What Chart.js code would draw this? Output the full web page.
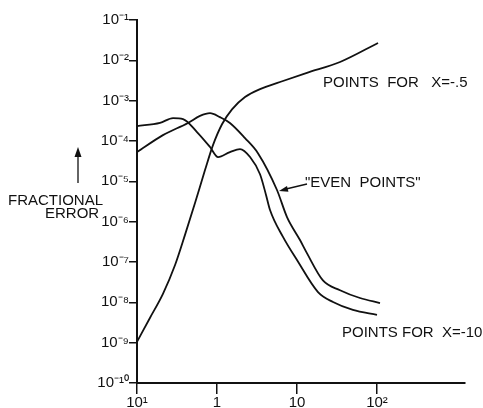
<!DOCTYPE html>
<html>
<head>
<meta charset="utf-8">
<script src="https://cdn.jsdelivr.net/npm/chart.js@4.4.1/dist/chart.umd.min.js"></script>
<style>
  html, body { margin: 0; padding: 0; background: #fff; }
  canvas { display: block; }
</style>
</head>
<body>
<canvas id="errChart" width="483" height="408"></canvas>
<script>
// axis ticks
const xTickValues = [0.1, 1, 10, 100];
const xTickLabels = ['10¹', '1', '10', '10²'];
const yTickValues = [1e-10, 1e-9, 1e-8, 1e-7, 1e-6, 1e-5, 1e-4, 1e-3, 1e-2, 1e-1];
const yTickLabels = ['10⁻¹⁰', '10⁻⁹', '10⁻⁸', '10⁻⁷', '10⁻⁶', '10⁻⁵', '10⁻⁴', '10⁻³', '10⁻²', '10⁻¹'];

// points for x = -.5 (rising curve)
const halfX = [0.1, 0.145, 0.211, 0.299, 0.398, 0.531, 0.708, 0.891, 1.155, 1.54, 2.24, 3.45, 6.13, 13.3, 34.5, 103];
const halfY = [1.05e-9, 4.1e-9, 1.62e-8, 8.4e-8, 4.7e-7, 2.9e-6, 1.9e-5, 7.9e-5, 2.6e-4, 6.1e-4, 1.23e-3, 1.94e-3, 2.9e-3, 4.9e-3, 9.1e-3, 2.7e-2];

// points for x = -10 (curve with the dip)
const tenX = [0.1, 0.194, 0.282, 0.376, 0.562, 0.818, 1.03, 1.45, 1.94, 2.59, 3.45, 4.1, 4.6, 6.68, 10, 18.3, 28.2, 50, 100];
const tenY = [2.35e-4, 2.8e-4, 3.7e-4, 3.5e-4, 1.67e-4, 7.1e-5, 4.0e-5, 5.3e-5, 6.3e-5, 4.0e-5, 1.5e-5, 4.6e-6, 1.95e-6, 4.2e-7, 1.12e-7, 1.8e-8, 1.02e-8, 6.5e-9, 4.9e-9];

// "even points"
const evenX = [0.1, 0.211, 0.434, 0.613, 0.818, 1.09, 1.45, 2.24, 3.25, 5.62, 7.5, 10.9, 13.3, 21.1, 34.5, 61.3, 109];
const evenY = [5.3e-5, 1.4e-4, 2.8e-4, 4.2e-4, 4.9e-4, 3.9e-4, 2.8e-4, 1.18e-4, 5.0e-5, 6.1e-6, 1.3e-6, 3.5e-7, 1.66e-7, 3.5e-8, 2.0e-8, 1.28e-8, 9.6e-9];

const toPoints = (xs, ys) => xs.map((x, i) => ({ x: x, y: ys[i] }));

const lineStyle = {
  showLine: true,
  borderColor: '#111',
  borderWidth: 1.8,
  pointRadius: 0,
  cubicInterpolationMode: 'monotone',
  fill: false
};

function arrowHead(ctx, x, y, angle, len, half) {
  ctx.save();
  ctx.translate(x, y);
  ctx.rotate(angle);
  ctx.beginPath();
  ctx.moveTo(0, 0);
  ctx.lineTo(-len, -half);
  ctx.lineTo(-len, half);
  ctx.closePath();
  ctx.fill();
  ctx.restore();
}

// labels and arrows written on the plot
const notes = {
  id: 'notes',
  afterDraw(chart) {
    const ctx = chart.ctx;
    ctx.save();
    ctx.fillStyle = '#111';
    ctx.strokeStyle = '#111';
    ctx.font = '15px "Liberation Sans", Arial, sans-serif';
    ctx.textBaseline = 'alphabetic';
    ctx.fillText('POINTS  FOR   X=-.5', 323, 87);
    ctx.fillText('POINTS FOR  X=-10', 342, 337);
    ctx.fillText('"EVEN  POINTS"', 305, 187);

    // arrow to the even points curve
    ctx.lineWidth = 1.3;
    ctx.beginPath();
    ctx.moveTo(307, 184);
    ctx.lineTo(286, 189);
    ctx.stroke();
    arrowHead(ctx, 279, 191, Math.atan2(191 - 184, 279 - 307), 9, 3);

    // y axis title
    ctx.fillText('FRACTIONAL', 8, 205);
    ctx.fillText('ERROR', 45, 218);
    ctx.beginPath();
    ctx.moveTo(78, 183);
    ctx.lineTo(78, 155);
    ctx.stroke();
    arrowHead(ctx, 78, 147, -Math.PI / 2, 10, 3.5);
    ctx.restore();
  }
};

new Chart(document.getElementById('errChart'), {
  type: 'scatter',
  data: {
    datasets: [
      Object.assign({ label: 'X=-.5', data: toPoints(halfX, halfY) }, lineStyle),
      Object.assign({ label: 'X=-10', data: toPoints(tenX, tenY) }, lineStyle),
      Object.assign({ label: 'Even points', data: toPoints(evenX, evenY) }, lineStyle)
    ]
  },
  options: {
    responsive: false,
    animation: false,
    layout: { padding: { top: 20, right: 18, left: 0, bottom: 0 } },
    plugins: {
      legend: { display: false },
      tooltip: { enabled: false }
    },
    scales: {
      x: {
        type: 'logarithmic',
        min: 0.1,
        max: Math.pow(10, 3.1),
        afterBuildTicks: (scale) => {
          scale.ticks = xTickValues.map((v) => ({ value: v }));
        },
        afterFit: (scale) => { scale.height = 25; },
        border: { display: true, color: '#111', width: 2 },
        grid: { drawOnChartArea: false, drawTicks: true, tickLength: 11, color: '#111', lineWidth: 1.5 },
        ticks: {
          color: '#111',
          padding: 0,
          maxRotation: 0,
          autoSkip: false,
          font: { family: '"Liberation Sans", Arial, sans-serif', size: 15 },
          callback: (value, index) => xTickLabels[index]
        }
      },
      y: {
        type: 'logarithmic',
        min: 1e-10,
        max: 1e-1,
        afterBuildTicks: (scale) => {
          scale.ticks = yTickValues.map((v) => ({ value: v }));
        },
        afterFit: (scale) => { scale.width = 137; },
        border: { display: true, color: '#111', width: 2 },
        grid: { drawOnChartArea: false, drawTicks: true, tickLength: 8, color: '#111', lineWidth: 1.5 },
        ticks: {
          color: '#111',
          padding: 0,
          autoSkip: false,
          font: { family: '"Liberation Sans", Arial, sans-serif', size: 15 },
          callback: (value, index) => yTickLabels[index]
        }
      }
    }
  },
  plugins: [notes]
});
</script>
</body>
</html>
